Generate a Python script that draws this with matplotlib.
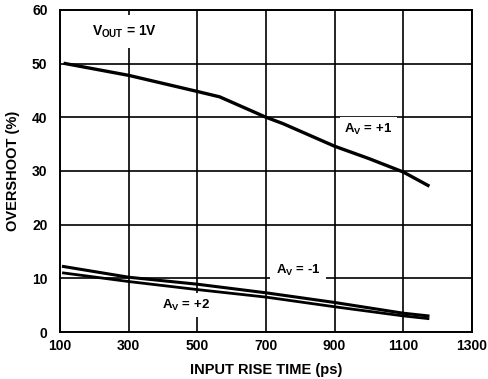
import numpy as np
import matplotlib
matplotlib.use('Agg')
import matplotlib.pyplot as plt

plt.rcParams['font.family'] = ['Liberation Sans', 'DejaVu Sans']
plt.rcParams['font.weight'] = 'bold'
plt.rcParams['mathtext.fontset'] = 'custom'
plt.rcParams['mathtext.rm'] = 'Liberation Sans:bold'
plt.rcParams['mathtext.default'] = 'rm'

# rise time (ps) and overshoot (%)
x_p1 = [115, 300, 500, 565, 700, 750, 900, 1000, 1100, 1172]
y_p1 = [50.0, 47.8, 44.8, 43.8, 40.0, 38.8, 34.6, 32.3, 29.8, 27.3]

x_m1 = [110, 300, 500, 700, 900, 1050, 1100, 1172]
y_m1 = [12.2, 10.2, 8.9, 7.3, 5.5, 4.0, 3.5, 3.0]

x_p2 = [110, 300, 500, 700, 900, 1100, 1172]
y_p2 = [11.0, 9.4, 7.9, 6.5, 4.7, 3.0, 2.5]

xticks = [100, 300, 500, 700, 900, 1100, 1300]
yticks = [0, 10, 20, 30, 40, 50, 60]

fig = plt.figure(figsize=(4.88, 3.79), dpi=100)
ax = fig.add_axes([0.123, 0.124, 0.844, 0.850])

ax.set_xlim(100, 1300)
ax.set_ylim(0, 60)
ax.set_xticks(xticks)
ax.set_yticks(yticks)
ax.grid(True, color='black', linewidth=1.2)
ax.set_axisbelow(True)
for s in ax.spines.values():
    s.set_linewidth(1.4)
ax.tick_params(length=0, labelsize=10)
ax.tick_params(axis='y', pad=9)
ax.tick_params(axis='x', pad=5)

ax.plot(x_p1, y_p1, color='black', linewidth=2.4)
ax.plot(x_m1, y_m1, color='black', linewidth=2.2)
ax.plot(x_p2, y_p2, color='black', linewidth=2.0)

ax.text(193, 56, 'V$_{OUT}$ = 1V', fontsize=10, va='center',
        bbox=dict(facecolor='white', edgecolor='none', pad=6))
ax.text(928, 37.8, 'A$_{V}$ = +1', fontsize=9.5, va='center',
        bbox=dict(facecolor='white', edgecolor='none', pad=3))
ax.text(729, 11.5, 'A$_{V}$ = -1', fontsize=9.5, va='center',
        bbox=dict(facecolor='white', edgecolor='none', pad=4))
ax.text(396, 5.0, 'A$_{V}$ = +2', fontsize=9.5, va='center',
        bbox=dict(facecolor='white', edgecolor='none', pad=3))

ax.set_xlabel('INPUT RISE TIME (ps)', fontsize=10.5, fontweight='bold', labelpad=7)
ax.set_ylabel('OVERSHOOT (%)', fontsize=10.5, fontweight='bold', labelpad=9)

fig.savefig('out.png', dpi=100)
